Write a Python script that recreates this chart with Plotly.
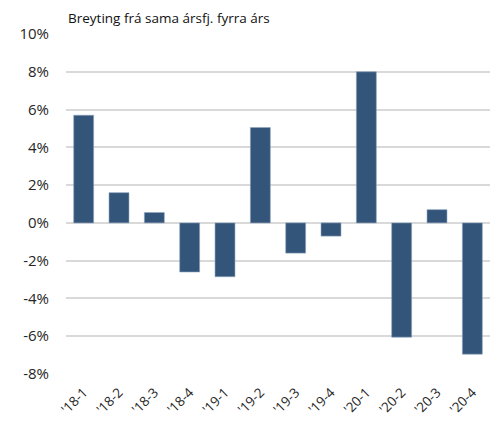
import plotly.graph_objects as go

categories = ["'18-1", "'18-2", "'18-3", "'18-4", "'19-1", "'19-2", "'19-3", "'19-4", "'20-1", "'20-2", "'20-3", "'20-4"]
values = [5.7, 1.6, 0.55, -2.6, -2.85, 5.05, -1.6, -0.7, 8.0, -6.05, 0.7, -6.95]
y_ticks = [-8, -6, -4, -2, 0, 2, 4, 6, 8, 10]
y_ticklabels = [f"{v}%" for v in y_ticks]
title = "Breyting frá sama ársfj. fyrra árs"

fig = go.Figure(go.Bar(
    x=categories, y=values,
    marker=dict(color="#33557A", line=dict(color="#8fa6bf", width=0.6)),
))
# page body has an 8px default margin, so the figure is sized to fit the window
fig.update_layout(
    width=491, height=415,
    margin=dict(l=58, r=9, t=26, b=49),
    paper_bgcolor="white", plot_bgcolor="white",
    bargap=0.435,
    showlegend=False,
    font=dict(family="Open Sans", size=13, color="#262626"),
    annotations=[dict(text=title, xref="paper", yref="paper", x=0.0, y=1, xanchor="left",
                      yanchor="bottom", yshift=5, xshift=0, showarrow=False,
                      font=dict(family="Open Sans", size=13.5, color="#111111"))],
)
fig.update_yaxes(range=[-8, 10], tickvals=y_ticks, ticktext=y_ticklabels,
                 showgrid=True, gridcolor="#d9d9d9", gridwidth=1.5,
                 zeroline=True, zerolinecolor="#d9d9d9", zerolinewidth=1.5,
                 showline=False, ticks="", ticklabelstandoff=16, automargin=False,
                 tickfont=dict(size=15, color="#262626"))
fig.update_xaxes(tickangle=-45, showgrid=False, showline=False, ticks="", automargin=False,
                 ticklabelstandoff=7,
                 tickfont=dict(size=13.5, color="#262626"))
fig.write_html("out.html")
